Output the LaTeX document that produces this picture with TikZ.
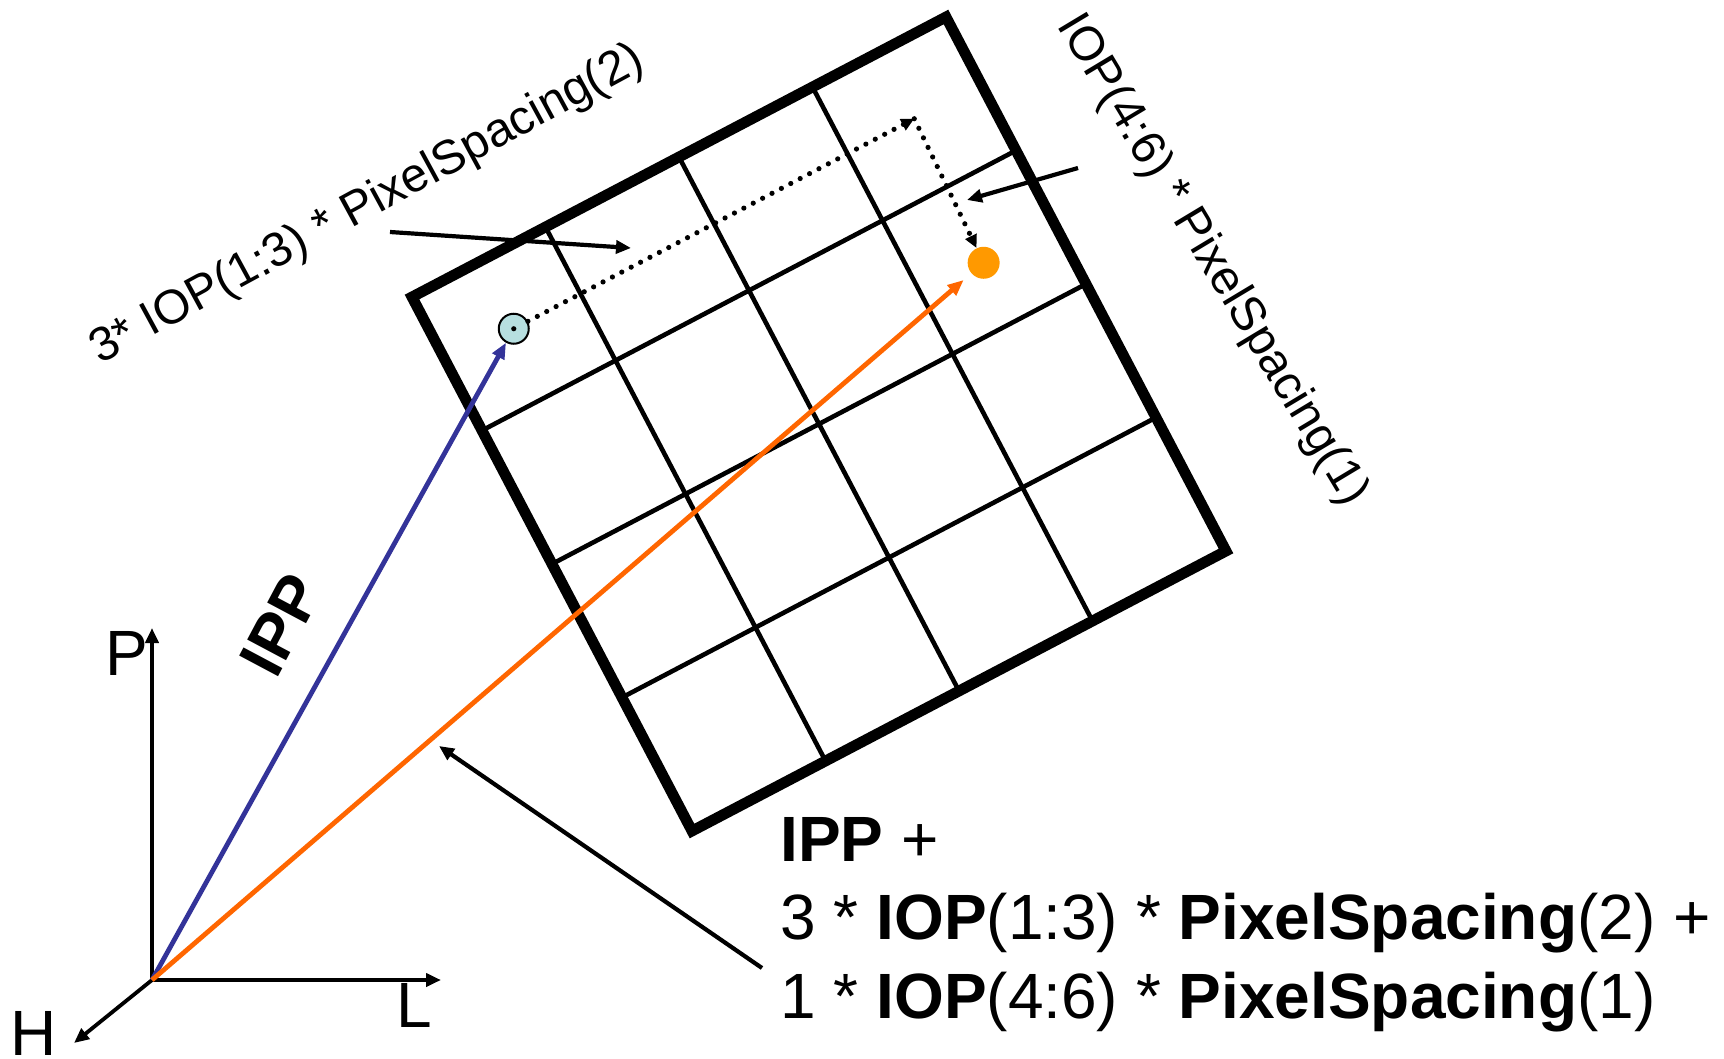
\documentclass[tikz,border=0pt]{standalone}
\usepackage{fontspec}
\setmainfont{Liberation Sans}
\usetikzlibrary{arrows.meta, calc, positioning}
\definecolor{ippblue}{HTML}{333399}
\definecolor{sumorange}{HTML}{FF6600}
\definecolor{hitorange}{HTML}{FF9900}
\definecolor{seedcyan}{HTML}{B7DFE0}
\tikzset{
  bigfont/.style   = {font=\fontsize{32}{39.25}\selectfont},
  smallfont/.style = {font=\fontsize{24}{29}\selectfont},
  frame/.style     = {line width=5.4pt, line join=miter},
  gridline/.style  = {line width=2.3pt},
  axis/.style      = {-{Triangle[length=7.5pt,width=6.5pt]}, line width=1.9pt},
  vec/.style       = {-{Triangle[length=8pt,width=6.5pt]}, line width=2.4pt},
  callout/.style   = {-{Triangle[length=7.5pt,width=6.5pt]}, line width=2.1pt},
  stepdots/.style  = {-{Triangle[length=6.5pt,width=6pt]}, line width=2.6pt,
                      line cap=round, dash pattern=on 0pt off 5.3pt},
  seed/.style      = {circle, draw, line width=1pt, fill=seedcyan,
                      minimum size=15pt, inner sep=0pt},
  hit/.style       = {circle, fill=hitorange, minimum size=16pt, inner sep=0pt},
}

\begin{document}
\begin{tikzpicture}[x=0.5pt, y=-0.5pt]
  \useasboundingbox (0,0) rectangle (1724,1059);

  % image plane, 4 x 4 pixels
  \coordinate (tl) at (412,297);
  \coordinate (tr) at (946,17);
  \coordinate (br) at (1226,551);
  \coordinate (bl) at (692,831);
  \coordinate (u) at (534,-280);
  \coordinate (v) at (280,534);
  \foreach \k in {1,2,3} {
    \draw[gridline] ($(tl)!\k/4!(tr)$) -- ($(bl)!\k/4!(br)$);
    \draw[gridline] ($(tl)!\k/4!(bl)$) -- ($(tr)!\k/4!(br)$);
  }
  \draw[frame] (tl) -- (tr) -- (br) -- (bl) -- cycle;

  % patient axes
  \coordinate (o) at (152,980);
  \coordinate (pend) at (152,628);
  \coordinate (lend) at (441,980);
  \coordinate (hend) at (74,1043);
  \draw[axis] (o) -- (pend);
  \draw[axis] (o) -- (lend);
  \draw[axis] (o) -- (hend);
  \node[bigfont] (plabel) at (127,653) {P};
  \node[bigfont] (llabel) at (414,1005) {L};
  \node[bigfont] (hlabel) at (34,1033) {H};

  % first pixel and target pixel
  \node[seed] (seed) at ($(tl)+0.125*(u)+0.125*(v)$) {};
  \coordinate (bend) at ($(tl)+0.875*(u)+0.125*(v)$);
  \node[hit] (hit) at ($(tl)+0.866*(u)+0.39*(v)$) {};

  \draw[vec, ippblue] (o) -- (seed);
  \draw[vec, sumorange, shorten >=5pt] (o) -- (hit);
  \fill (seed.center) circle[radius=1.3pt];
  \draw[stepdots] (seed) -- (bend);
  \draw[stepdots] (bend) -- (hit);

  \node[bigfont, rotate=62, anchor=base west, inner sep=0pt] (ipp) at (276,681)
    {\textbf{IPP}};

  % labels of the two steps
  \node[smallfont, rotate=28.5, anchor=base west, inner sep=0pt] (rowlabel)
    at (100,365) {3* IOP(1:3) * PixelSpacing(2)};
  \node[smallfont, rotate=-59, anchor=base west, inner sep=0pt] (collabel)
    at (1056,25) {IOP(4:6) * PixelSpacing(1)};
  \coordinate (rowfrom) at (390,232);
  \coordinate (rowto) at (631,248);
  \coordinate (colfrom) at (1078,168);
  \coordinate (colto) at (967,200);
  \draw[callout] (rowfrom) -- (rowto);
  \draw[callout] (colfrom) -- (colto);

  % resulting position
  \node[bigfont, anchor=north west, inner sep=0pt, align=left] (sum) at (780,817)
    {\textbf{IPP} +\\
     3 * \textbf{IOP}(1:3) * \textbf{PixelSpacing}(2) +\\
     1 * \textbf{IOP}(4:6) * \textbf{PixelSpacing}(1)};
  \coordinate (sumfrom) at (762,968);
  \coordinate (sumto) at (439,746);
  \draw[callout] (sumfrom) -- (sumto);
\end{tikzpicture}
\end{document}
